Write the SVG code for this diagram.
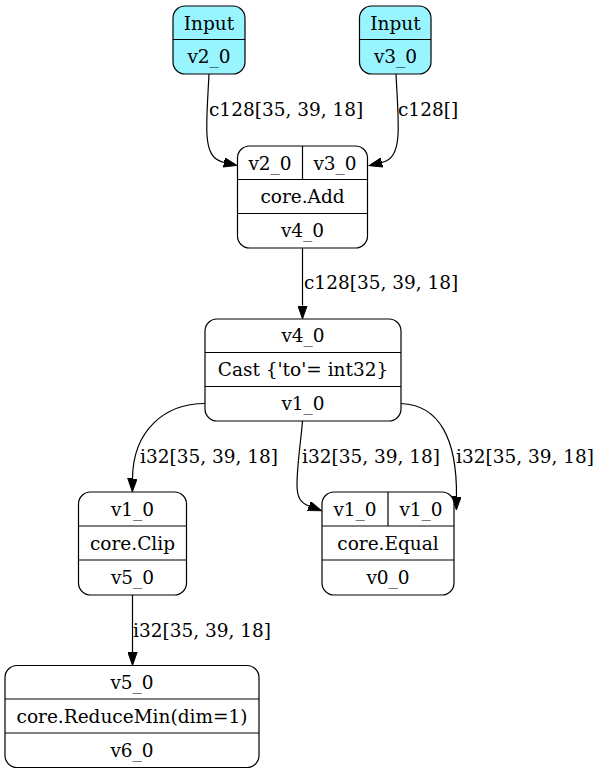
<svg xmlns="http://www.w3.org/2000/svg" width="600" height="774" viewBox="0 0 600 774">
<style>
text{font-family:"DejaVu Serif","Liberation Serif",serif;font-size:18.5px;fill:#000}
.c{text-anchor:middle}
.box{fill:#fff;stroke:#000;stroke-width:1.2}
.inp{fill:#98f5ff;stroke:#000;stroke-width:1.2}
.sep{stroke:#000;stroke-width:1.2;fill:none}
.edge{fill:none;stroke:#000;stroke-width:1.2}
</style>
<defs>
<marker id="ah" markerUnits="userSpaceOnUse" markerWidth="14" markerHeight="10" refX="0" refY="5" orient="auto" viewBox="0 0 14 10">
<path d="M0,0.3 L13.3,5 L0,9.7 Z" fill="#000" stroke="#000" stroke-width="1"/>
</marker>
</defs>
<rect width="600" height="774" fill="#fff"/>
<g id="connectors">
<path class="edge" marker-end="url(#ah)" d="M209,74 C208,95 206,120 207,135 C208,152 213,160 224,162.5"/>
<text x="209" y="116">c128[35, 39, 18]</text>
<path class="edge" marker-end="url(#ah)" d="M396,74 C397,95 399,120 398,135 C397,152 392,160 382,162.5"/>
<text x="398" y="116">c128[]</text>
<path class="edge" marker-end="url(#ah)" d="M302.5,248 L302.5,305.5"/>
<text x="304" y="289">c128[35, 39, 18]</text>
<path class="edge" marker-end="url(#ah)" d="M205,403.5 C165,403.5 133,430 132.5,478.5"/>
<text x="140" y="463">i32[35, 39, 18]</text>
<path class="edge" marker-end="url(#ah)" d="M302.5,421 C301,440 297,465 297,485 C297,498 301,503 309,506"/>
<text x="302" y="463">i32[35, 39, 18]</text>
<path class="edge" marker-end="url(#ah)" d="M401,403.5 C440,405 457,440 456.5,496.5"/>
<text x="456" y="463">i32[35, 39, 18]</text>
<path class="edge" marker-end="url(#ah)" d="M132.5,595 L132.5,652"/>
<text x="133" y="637">i32[35, 39, 18]</text>
</g>
<g id="input_v2_0">
<rect class="inp" x="173" y="6" width="72" height="68" rx="12"/>
<line class="sep" x1="173" y1="39.5" x2="245" y2="39.5"/>
<text class="c" x="209" y="29.5">Input</text>
<text class="c" x="209" y="63">v2_0</text>
</g>
<g id="input_v3_0">
<rect class="inp" x="359.5" y="6" width="71.5" height="68" rx="12"/>
<line class="sep" x1="359.5" y1="39.5" x2="431" y2="39.5"/>
<text class="c" x="395.5" y="29.5">Input</text>
<text class="c" x="395.5" y="63">v3_0</text>
</g>
<g id="add">
<rect class="box" x="237.5" y="146" width="130" height="102" rx="12"/>
<line class="sep" x1="237.5" y1="179.5" x2="367.5" y2="179.5"/>
<line class="sep" x1="237.5" y1="213.5" x2="367.5" y2="213.5"/>
<line class="sep" x1="302.5" y1="146" x2="302.5" y2="179.5"/>
<text class="c" x="270" y="169.5">v2_0</text>
<text class="c" x="335" y="169.5">v3_0</text>
<text class="c" x="302.5" y="203">core.Add</text>
<text class="c" x="302.5" y="237">v4_0</text>
</g>
<g id="cast">
<rect class="box" x="205" y="319" width="196" height="102" rx="12"/>
<line class="sep" x1="205" y1="352.5" x2="401" y2="352.5"/>
<line class="sep" x1="205" y1="386.5" x2="401" y2="386.5"/>
<text class="c" x="303" y="342">v4_0</text>
<text class="c" x="303" y="376">Cast {'to'= int32}</text>
<text class="c" x="303" y="410">v1_0</text>
</g>
<g id="clip">
<rect class="box" x="78.5" y="492" width="108" height="103" rx="12"/>
<line class="sep" x1="78.5" y1="526" x2="186.5" y2="526"/>
<line class="sep" x1="78.5" y1="560" x2="186.5" y2="560"/>
<text class="c" x="132.5" y="515.5">v1_0</text>
<text class="c" x="132.5" y="549.5">core.Clip</text>
<text class="c" x="132.5" y="584">v5_0</text>
</g>
<g id="equal">
<rect class="box" x="322" y="492" width="132" height="103" rx="12"/>
<line class="sep" x1="322" y1="526" x2="454" y2="526"/>
<line class="sep" x1="322" y1="560" x2="454" y2="560"/>
<line class="sep" x1="388" y1="492" x2="388" y2="526"/>
<text class="c" x="355" y="515.5">v1_0</text>
<text class="c" x="421" y="515.5">v1_0</text>
<text class="c" x="388" y="549.5">core.Equal</text>
<text class="c" x="388" y="584">v0_0</text>
</g>
<g id="reducemin">
<rect class="box" x="5" y="665.5" width="254" height="102" rx="12"/>
<line class="sep" x1="5" y1="699" x2="259" y2="699"/>
<line class="sep" x1="5" y1="733" x2="259" y2="733"/>
<text class="c" x="132" y="689">v5_0</text>
<text class="c" x="132" y="722.5">core.ReduceMin(dim=1)</text>
<text class="c" x="132" y="756.5">v6_0</text>
</g>
</svg>
